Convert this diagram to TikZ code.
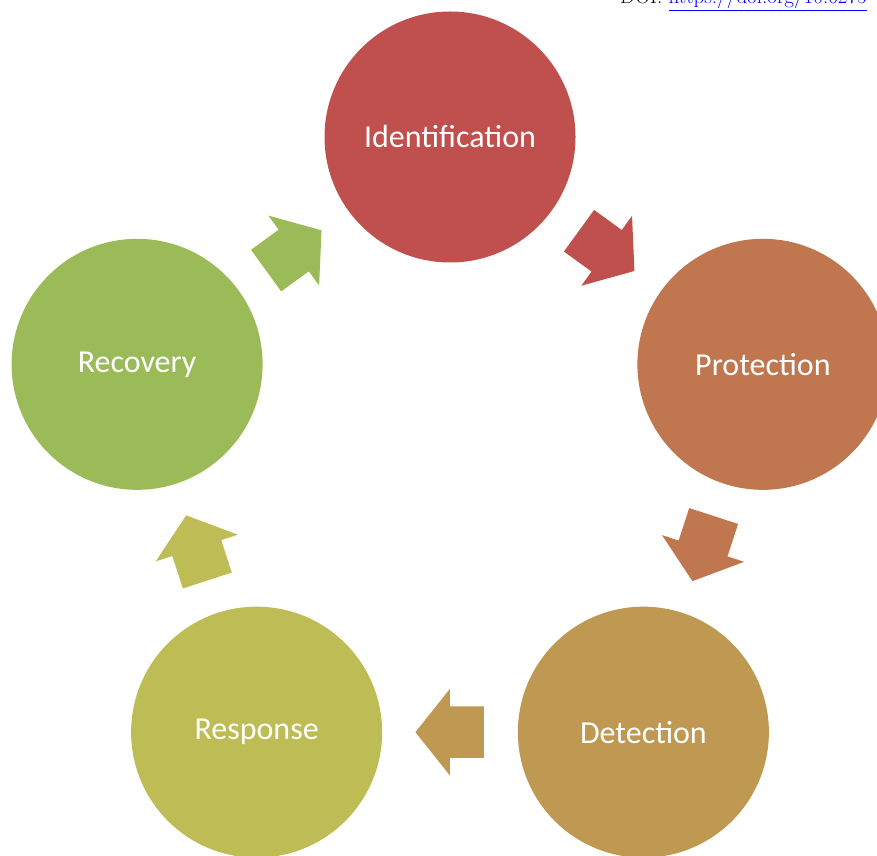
\documentclass[tikz,border=0pt]{standalone}
\usepackage{fontspec}
\newfontfamily\phasefont{Carlito}
\usepackage{tikz}
\usetikzlibrary{shapes.arrows}

\definecolor{identred}{HTML}{C0504D}
\definecolor{protectorange}{HTML}{C0774F}
\definecolor{detectochre}{HTML}{BF9952}
\definecolor{responseolive}{HTML}{BDBC55}
\definecolor{recoverygreen}{HTML}{9BBB59}

\begin{document}
\begin{tikzpicture}[x=1pt, y=1pt,
        phase/.style={circle, draw=none, inner sep=0pt, minimum size=251pt, text=white, font=\phasefont\fontsize{32}{38}\selectfont},
        cyclearrow/.style={single arrow, draw=none, inner xsep=0pt, inner ysep=25.5pt, minimum height=68.5pt,
          single arrow head extend=17.5pt, single arrow tip angle=103, sloped, allow upside down, pos=0.248, anchor=tail}
      ]
        \useasboundingbox (0,0) rectangle (877,855);
        \clip (0,0) rectangle (877,855);

        \coordinate (hub) at (450,389);
        \node[phase, fill=identred]      (ident)    at ([shift={(90:329)}]hub)   {Identification};
        \node[phase, fill=protectorange] (protect)  at ([shift={(18:329)}]hub)   {Protection};
        \node[phase, fill=detectochre]   (detect)   at ([shift={(-54:329)}]hub)  {Detection};
        \node[phase, fill=responseolive] (respond)  at ([shift={(-126:329)}]hub) {Response};
        \node[phase, fill=recoverygreen] (recover)  at ([shift={(162:329)}]hub)  {Recovery};

        \path (ident)   -- node[cyclearrow, fill=identred]      {} (protect);
        \path (protect) -- node[cyclearrow, fill=protectorange] {} (detect);
        \path (detect)  -- node[cyclearrow, fill=detectochre]   {} (respond);
        \path (respond) -- node[cyclearrow, fill=responseolive] {} (recover);
        \path (recover) -- node[cyclearrow, fill=recoverygreen] {} (ident);

        \node[anchor=base west, inner sep=0pt, font=\fontsize{21}{24}\selectfont] (doi) at (620,851)
          {DOI: \textcolor{blue}{\underline{https://doi.org/10.6275}}};
      \end{tikzpicture}
\end{document}
